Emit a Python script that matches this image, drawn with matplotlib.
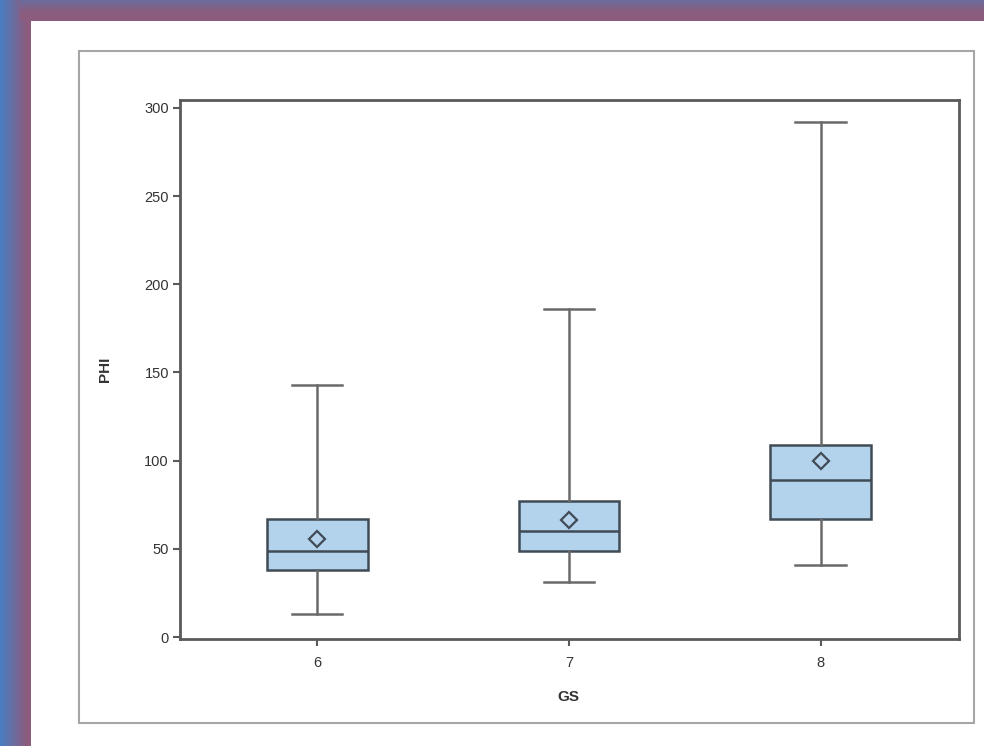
import numpy as np
import matplotlib
matplotlib.use("Agg")
import matplotlib.pyplot as plt
from matplotlib.patches import Rectangle

plt.rcParams['font.family'] = ['Liberation Sans', 'DejaVu Sans']

# box statistics
gs = [6, 7, 8]
whislo = [13, 31, 41]
q1 = [38, 49, 67]
median = [49, 60, 89]
q3 = [67, 77, 109]
whishi = [143, 186, 292]
mean = [55.5, 66.5, 100]

W, H = 984, 746
fig = plt.figure(figsize=(W / 100, H / 100), dpi=100)

# purple / blue border behind the white panel
bg = fig.add_axes([0, 0, 1, 1], zorder=-10)
purple = np.array([0x8c, 0x5c, 0x7e]) / 255
blue = np.array([0x48, 0x7e, 0xc2]) / 255
topc = np.array([0x6c, 0x6c, 0x9c]) / 255
xs = np.arange(W)
ys = np.arange(H)
tx = np.clip(xs / 26.0, 0, 1)[None, :, None]
ty = np.clip(ys / 12.0, 0, 1)[:, None, None]
img = blue * (1 - tx) + purple * tx
img = np.broadcast_to(img, (H, W, 3)).copy()
top = topc * (1 - ty) + purple * ty
mask = (ys < 21)[:, None] & (xs >= 20)[None, :]
img[mask] = np.broadcast_to(top, (H, W, 3))[mask]
bg.imshow(img, aspect='auto', interpolation='bilinear')
bg.set_axis_off()

# white panel and grey frame
fig.patches.append(Rectangle((31 / W, 0), 1 - 31 / W, 1 - 21 / H,
                             transform=fig.transFigure, facecolor='white',
                             edgecolor='none', zorder=-5))
fig.patches.append(Rectangle((79 / W, 1 - 723 / H), (974 - 79) / W, (723 - 51) / H,
                             transform=fig.transFigure, facecolor='none',
                             edgecolor='#a6a6a6', linewidth=1.5, zorder=-4))

ax = fig.add_axes([180 / W, 1 - 639 / H, (959 - 180) / W, (639 - 100) / H])

stats = []
for i in range(len(gs)):
    stats.append(dict(label=str(gs[i]), whislo=whislo[i], q1=q1[i], med=median[i],
                      q3=q3[i], whishi=whishi[i], mean=mean[i], fliers=[]))

edge = '#404b55'
ax.bxp(stats, positions=gs, widths=0.4, capwidths=0.2, patch_artist=True,
       showmeans=True,
       boxprops=dict(facecolor='#b3d2ec', edgecolor=edge, linewidth=1.8),
       medianprops=dict(color=edge, linewidth=1.8),
       whiskerprops=dict(color='#6a6a6a', linewidth=1.8),
       capprops=dict(color='#6a6a6a', linewidth=1.8),
       meanprops=dict(marker='D', markersize=8, markerfacecolor='none',
                      markeredgecolor=edge, markeredgewidth=1.6))

ax.set_xlim(5.455, 8.55)
ax.set_ylim(-1.1, 304.5)
ax.set_yticks([0, 50, 100, 150, 200, 250, 300])
ax.set_xticks(gs)
ax.set_xticklabels([str(g) for g in gs])

for s in ax.spines.values():
    s.set_color('#5a5a5a')
    s.set_linewidth(2)
ax.tick_params(axis='both', colors='#5a5a5a', labelcolor='#333333',
               labelsize=10.5, length=5, width=1.5)
ax.tick_params(axis='x', pad=7)
ax.tick_params(axis='y', pad=3)

ax.set_xlabel('GS', fontsize=11, fontweight='bold', color='#333333')
ax.set_ylabel('PHI', fontsize=11, fontweight='bold', color='#333333')
ax.xaxis.set_label_coords(0.499, -0.094)
ax.yaxis.set_label_coords(-0.087, 0.5)

fig.savefig('out.png', dpi=100)
